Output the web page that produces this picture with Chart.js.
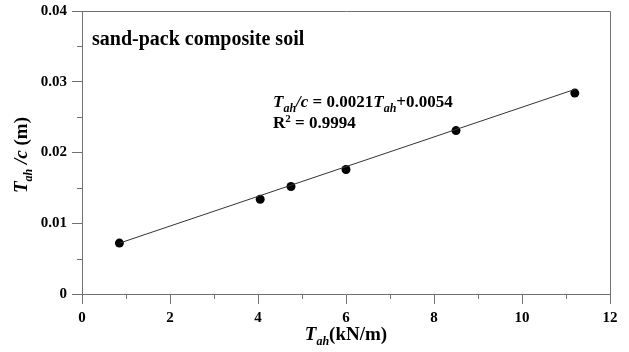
<!DOCTYPE html>
<html>
<head>
<meta charset="utf-8">
<script src="https://cdn.jsdelivr.net/npm/chart.js@4/dist/chart.umd.min.js"></script>
<style>
  html, body { margin: 0; padding: 0; background: #fff; }
  #wrap { width: 629px; height: 352px; }
</style>
</head>
<body>
<div id="wrap"><canvas id="c" width="629" height="352"></canvas></div>
<script>
// measured points
const tah = [0.85, 4.05, 4.75, 6.0, 8.5, 11.2];
const tahOverC = [0.0072, 0.0134, 0.0152, 0.0176, 0.0231, 0.0284];

// linear fit as printed on the chart
const fitSlope = 0.0021;
const fitIntercept = 0.0054;
const fitX = [0.85, 11.2];

const xTicks = [0, 2, 4, 6, 8, 10, 12];
const yTicks = [0, 0.01, 0.02, 0.03, 0.04];
const xMinor = [1, 3, 5, 7, 9, 11];
const yMinor = [0.005, 0.015, 0.025, 0.035];

const SERIF = "'Liberation Serif', 'Times New Roman', serif";
const AXIS_COLOR = '#707070';

Chart.defaults.font.family = SERIF;

// draws runs of text with mixed style: [text, italic, sub, sup]
function drawRich(ctx, parts, x, y, size, subSize) {
  let cx = x;
  parts.forEach(([txt, italic, sub, sup]) => {
    const s = sub || sup ? subSize : size;
    ctx.font = (italic ? 'italic ' : '') + 'bold ' + s + 'px ' + SERIF;
    const dy = sub ? size * 0.28 : (sup ? -size * 0.38 : 0);
    ctx.fillText(txt, cx, y + dy);
    cx += ctx.measureText(txt).width;
  });
  return cx - x;
}
function richWidth(ctx, parts, size, subSize) {
  let w = 0;
  parts.forEach(([txt, italic, sub, sup]) => {
    const s = sub || sup ? subSize : size;
    ctx.font = (italic ? 'italic ' : '') + 'bold ' + s + 'px ' + SERIF;
    w += ctx.measureText(txt).width;
  });
  return w;
}

const decorations = {
  id: 'decorations',
  afterDraw(chart) {
    const { ctx, chartArea: a, scales } = chart;
    ctx.save();
    // top and right frame
    ctx.strokeStyle = AXIS_COLOR;
    ctx.lineWidth = 1;
    ctx.beginPath();
    ctx.moveTo(Math.round(a.left) + 0.5, Math.round(a.top) + 0.5);
    ctx.lineTo(Math.round(a.right) + 0.5, Math.round(a.top) + 0.5);
    ctx.lineTo(Math.round(a.right) + 0.5, Math.round(a.bottom) + 0.5);
    ctx.stroke();
    // minor ticks
    ctx.beginPath();
    xMinor.forEach(v => {
      const px = Math.round(scales.x.getPixelForValue(v)) + 0.5;
      ctx.moveTo(px, a.bottom);
      ctx.lineTo(px, a.bottom + 5);
    });
    yMinor.forEach(v => {
      const py = Math.round(scales.y.getPixelForValue(v)) + 0.5;
      ctx.moveTo(a.left, py);
      ctx.lineTo(a.left - 5, py);
    });
    ctx.stroke();

    ctx.fillStyle = '#000';
    ctx.textBaseline = 'alphabetic';
    ctx.textAlign = 'left';

    ctx.font = 'bold 20px ' + SERIF;
    ctx.fillText('sand-pack composite soil', 92, 45);

    drawRich(ctx, [['T', true], ['ah', true, true], ['/c', true], [' = 0.0021', false],
                   ['T', true], ['ah', true, true], ['+0.0054', false]], 273, 107, 17, 12);
    drawRich(ctx, [['R', false], ['2', false, false, true], [' = 0.9994', false]], 273, 128, 17, 11);

    // axis titles
    const xt = [['T', true], ['ah', true, true], ['(kN/m)', false]];
    const xw = richWidth(ctx, xt, 19, 12);
    drawRich(ctx, xt, (a.left + a.right) / 2 - xw / 2, 340, 19, 12);

    const yt = [['T', true], ['ah', true, true], [' /c', true], [' (m)', false]];
    const yw = richWidth(ctx, yt, 19, 12);
    ctx.translate(27, 155);
    ctx.rotate(-Math.PI / 2);
    drawRich(ctx, yt, -yw / 2, 0, 19, 12);
    ctx.restore();
  }
};

new Chart(document.getElementById('c'), {
  type: 'scatter',
  data: {
    datasets: [
      {
        label: 'fit',
        data: fitX.map(x => ({ x, y: fitSlope * x + fitIntercept })),
        showLine: true,
        borderColor: '#333',
        borderWidth: 1,
        pointRadius: 0
      },
      {
        label: 'measured',
        data: tah.map((x, i) => ({ x, y: tahOverC[i] })),
        backgroundColor: '#000',
        borderColor: '#000',
        borderWidth: 0,
        pointRadius: 4.5
      }
    ]
  },
  options: {
    responsive: false,
    animation: false,
    layout: { padding: { top: 11, right: 19, left: 0, bottom: 0 } },
    plugins: { legend: { display: false }, tooltip: { enabled: false } },
    scales: {
      x: {
        type: 'linear',
        min: 0, max: 12,
        afterBuildTicks: s => { s.ticks = xTicks.map(v => ({ value: v })); },
        afterFit: s => { s.height = 58; s.paddingLeft = 0; s.paddingRight = 0; },
        grid: { drawOnChartArea: false, tickLength: 10, color: AXIS_COLOR },
        border: { color: AXIS_COLOR },
        ticks: { color: '#000', padding: 5, maxRotation: 0,
                 font: { family: SERIF, size: 15, weight: 'bold' } }
      },
      y: {
        type: 'linear',
        min: 0, max: 0.04,
        afterBuildTicks: s => { s.ticks = yTicks.map(v => ({ value: v })); },
        afterFit: s => { s.width = 82; s.paddingTop = 0; s.paddingBottom = 0; },
        grid: { drawOnChartArea: false, tickLength: 10, color: AXIS_COLOR },
        border: { color: AXIS_COLOR },
        ticks: { color: '#000', padding: 5,
                 callback: v => v === 0 ? '0' : v.toFixed(2),
                 font: { family: SERIF, size: 15, weight: 'bold' } }
      }
    }
  },
  plugins: [decorations]
});
</script>
</body>
</html>
